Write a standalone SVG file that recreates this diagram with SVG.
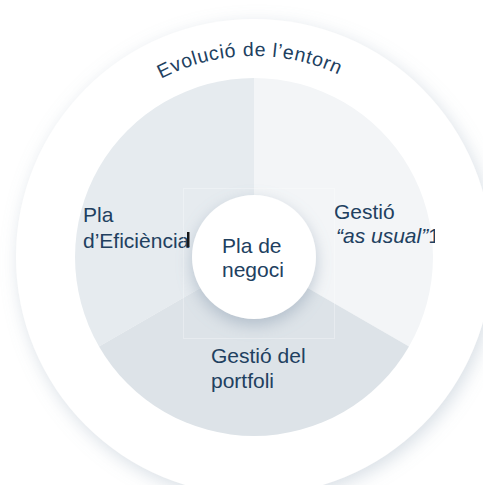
<svg xmlns="http://www.w3.org/2000/svg" xmlns:xlink="http://www.w3.org/1999/xlink" width="483" height="485" viewBox="0 0 483 485">
  <style>
    .lbl { font-family: "Liberation Sans", Arial, sans-serif; font-size: 21px; fill: #21405f; }
    .arc { font-family: "Liberation Sans", Arial, sans-serif; font-size: 19.5px; fill: #21405f; letter-spacing: 0.7px; }
  </style>
  <defs>
    <filter id="outerShadow" x="-20%" y="-20%" width="140%" height="140%">
      <feDropShadow dx="3" dy="5" stdDeviation="9" flood-color="#8ea2b5" flood-opacity="0.35"/>
    </filter>
    <filter id="centerShadow" x="-40%" y="-40%" width="180%" height="180%">
      <feDropShadow dx="0" dy="6" stdDeviation="8" flood-color="#7e93a8" flood-opacity="0.45"/>
    </filter>
    <path id="arcPath" d="M 53,257 A 201 201 0 0 1 455,257"/>
    <clipPath id="clipRight"><rect x="0" y="0" width="435" height="485"/></clipPath>
  </defs>
  <rect width="483" height="485" fill="#ffffff"/>

  <g id="outer-ring">
    <circle cx="254" cy="257" r="238" fill="#ffffff" filter="url(#outerShadow)"/>
    <text class="arc"><textPath xlink:href="#arcPath" href="#arcPath" startOffset="49.3%" text-anchor="middle">Evolució de l’entorn</textPath></text>
  </g>

  <g id="segment-eficiencia">
    <path d="M254,257 L254,78 A179,179 0 0 0 99,346.5 Z" fill="#e6ebef"/>
    <text class="lbl" x="83" y="222">Pla</text>
    <text class="lbl" x="83" y="248">d’Eficiència</text>
    <rect x="187" y="232" width="2.5" height="15" fill="#111111"/>
  </g>

  <g id="segment-usual">
    <path d="M254,257 L254,78 A179,179 0 0 1 409,346.5 Z" fill="#f3f5f7"/>
    <text class="lbl" x="334" y="219">Gestió</text>
    <text class="lbl" x="336" y="243" clip-path="url(#clipRight)"><tspan font-style="italic">“as usual”</tspan>1</text>
  </g>

  <g id="segment-portfoli">
    <path d="M254,257 L409,346.5 A179,179 0 0 1 99,346.5 Z" fill="#dde3e8"/>
    <text class="lbl" x="211" y="363">Gestió del</text>
    <text class="lbl" x="211" y="388">portfoli</text>
  </g>

  <rect x="183.5" y="188.5" width="151" height="150" fill="none" stroke="#ffffff" stroke-opacity="0.3" stroke-width="1"/>

  <g id="center">
    <circle cx="254" cy="257" r="62" fill="#ffffff" filter="url(#centerShadow)"/>
    <text class="lbl" x="222" y="253">Pla de</text>
    <text class="lbl" x="222" y="277">negoci</text>
  </g>
</svg>
